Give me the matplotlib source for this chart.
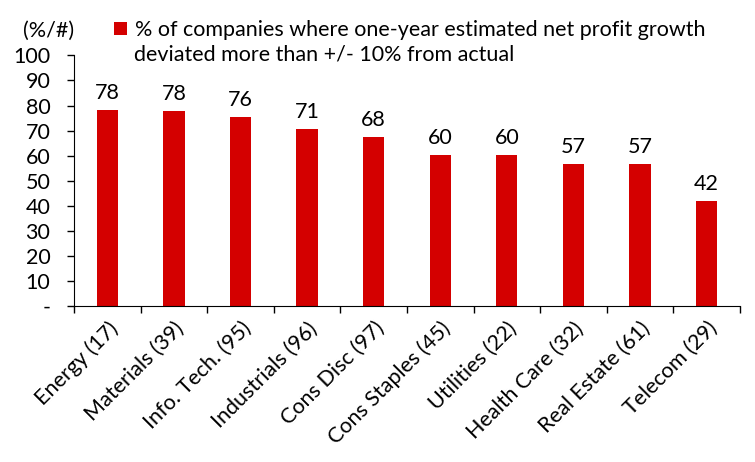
import numpy as np
import matplotlib.pyplot as plt

plt.rcParams['font.family'] = ['Lato', 'DejaVu Sans']

sectors = ['Energy (17)', 'Materials (39)', 'Info. Tech. (95)', 'Industrials (96)',
           'Cons Disc (97)', 'Cons Staples (45)', 'Utilities (22)', 'Health Care (32)',
           'Real Estate (61)', 'Telecom (29)']
pct = [78.1, 77.7, 75.6, 70.6, 67.5, 60.2, 60.1, 56.7, 56.6, 41.8]
yticks = [0, 10, 20, 30, 40, 50, 60, 70, 80, 90, 100]
ytick_labels = ['-'] + [str(v) for v in yticks[1:]]
legend_line1 = '% of companies where one-year estimated net profit growth'
legend_line2 = 'deviated more than +/- 10% from actual'

red = '#D40000'
fs = 15.5

fig = plt.figure(figsize=(7.55, 4.62), dpi=100)
ax = fig.add_axes([0.098, 0.338, 0.882, 0.542])

x = np.arange(len(sectors))
bars = ax.bar(x, pct, width=0.32, color=red, label=legend_line1)

for xi, v in zip(x, pct):
    ax.annotate('%d' % round(v), (xi, v), xytext=(0, 5), textcoords='offset points',
                ha='center', va='bottom', fontsize=fs)

ax.set_xlim(-0.5, len(sectors) - 0.5)
ax.set_ylim(0, 100)
ax.set_yticks(yticks)
ax.set_yticklabels(ytick_labels, fontsize=fs)
ax.tick_params(axis='y', length=5, width=1, pad=12)

# category ticks sit between the bars
ax.set_xticks(np.arange(len(sectors) + 1) - 0.5)
ax.set_xticklabels([])
ax.tick_params(axis='x', which='major', length=5, width=1)
ax.set_xticks(x, minor=True)
ax.set_xticklabels(sectors, minor=True, rotation=45, ha='right', va='top',
                   rotation_mode='anchor', fontsize=fs)
ax.tick_params(axis='x', which='minor', length=0, pad=9)

for s in ['top', 'right']:
    ax.spines[s].set_visible(False)

ax.text(-0.077, 1.097, '(%/#)', transform=ax.transAxes, fontsize=fs, ha='left', va='center')

leg = ax.legend(loc='upper left', bbox_to_anchor=(0.06, 1.141), frameon=False, fontsize=fs,
                handlelength=0.6, handleheight=0.6, handletextpad=0.4, borderaxespad=0,
                borderpad=0)
# second line of the legend label, so the square stays beside the first line
fig.text(0.1775, 0.881, legend_line2, fontsize=fs, ha='left', va='center')

fig.savefig('out.png', dpi=100)
